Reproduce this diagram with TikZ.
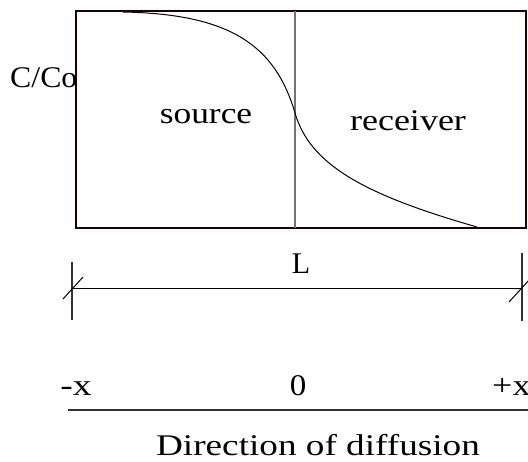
\documentclass[tikz,border=0pt]{standalone}
\usepackage{fontspec}
\setmainfont{Liberation Serif}
\newcommand{\sxt}[2][1.2]{\scalebox{#1}[1]{#2}}
\begin{document}
\begin{tikzpicture}[x=1pt,y=-1pt,
  lbl/.style={inner sep=0pt,font=\fontsize{30}{34}\selectfont,text=black},
  boxline/.style={draw=black!80!red!60!black,line width=2pt},
  thin/.style={draw=black,line width=1pt}]
\useasboundingbox[fill=white] (0,0) rectangle (528,461);
% box
\coordinate (tl) at (76,11);
\coordinate (br) at (526,228);
\draw[boxline] (tl) rectangle (br);
\coordinate (dtop) at (295,11);
\coordinate (dbot) at (295,228);
\draw[draw=black!55,line width=1.6pt] (dtop) -- (dbot);
% curve
\coordinate (c0) at (123,12);
\coordinate (cm) at (295,113);
\coordinate (c1) at (477,227);
\draw[line width=1pt] (c0) .. controls (230,14) and (275,45) .. (cm)
  .. controls (310,165) and (365,195) .. (c1);
% labels
\node[lbl,anchor=base west] (cco) at (10,87) {\sxt[1.06]{C/Co}};
\node[lbl,anchor=base] (src) at (206,123) {\sxt[1.18]{source}};
\node[lbl,anchor=base] (rcv) at (408,130) {\sxt[1.2]{receiver}};
\node[lbl,anchor=base] (L) at (301,273) {\sxt[1.0]{L}};
% dimension line
\coordinate (la) at (72,288);
\coordinate (ra) at (522,288);
\coordinate (lt1) at (72,262);
\coordinate (lt2) at (72,320);
\coordinate (rt1) at (522,253);
\coordinate (rt2) at (522,321);
\draw[thin] (la) -- (ra);
\draw[thin,draw=black!80,line width=1.3pt] (lt1) -- (lt2);
\draw[thin,draw=black!80,line width=1.3pt] (rt1) -- (rt2);
\draw[thin] (63,299) -- (83,277);
\draw[thin] (509,302) -- (530,279);
% axis labels
\node[lbl,anchor=base] (mx) at (76,395) {\sxt[1.25]{-x}};
\node[lbl,anchor=base] (zero) at (298,395) {\sxt[1.1]{0}};
\node[lbl,anchor=base west] (px) at (492,395) {\sxt[1.2]{+x}};
\coordinate (bl) at (68,410);
\coordinate (brr) at (528,410);
\draw[draw=black!80,line width=1.6pt] (bl) -- (brr);
\node[lbl,anchor=base] (dir) at (318,455) {\sxt[1.24]{Direction of diffusion}};
\end{tikzpicture}
\end{document}
